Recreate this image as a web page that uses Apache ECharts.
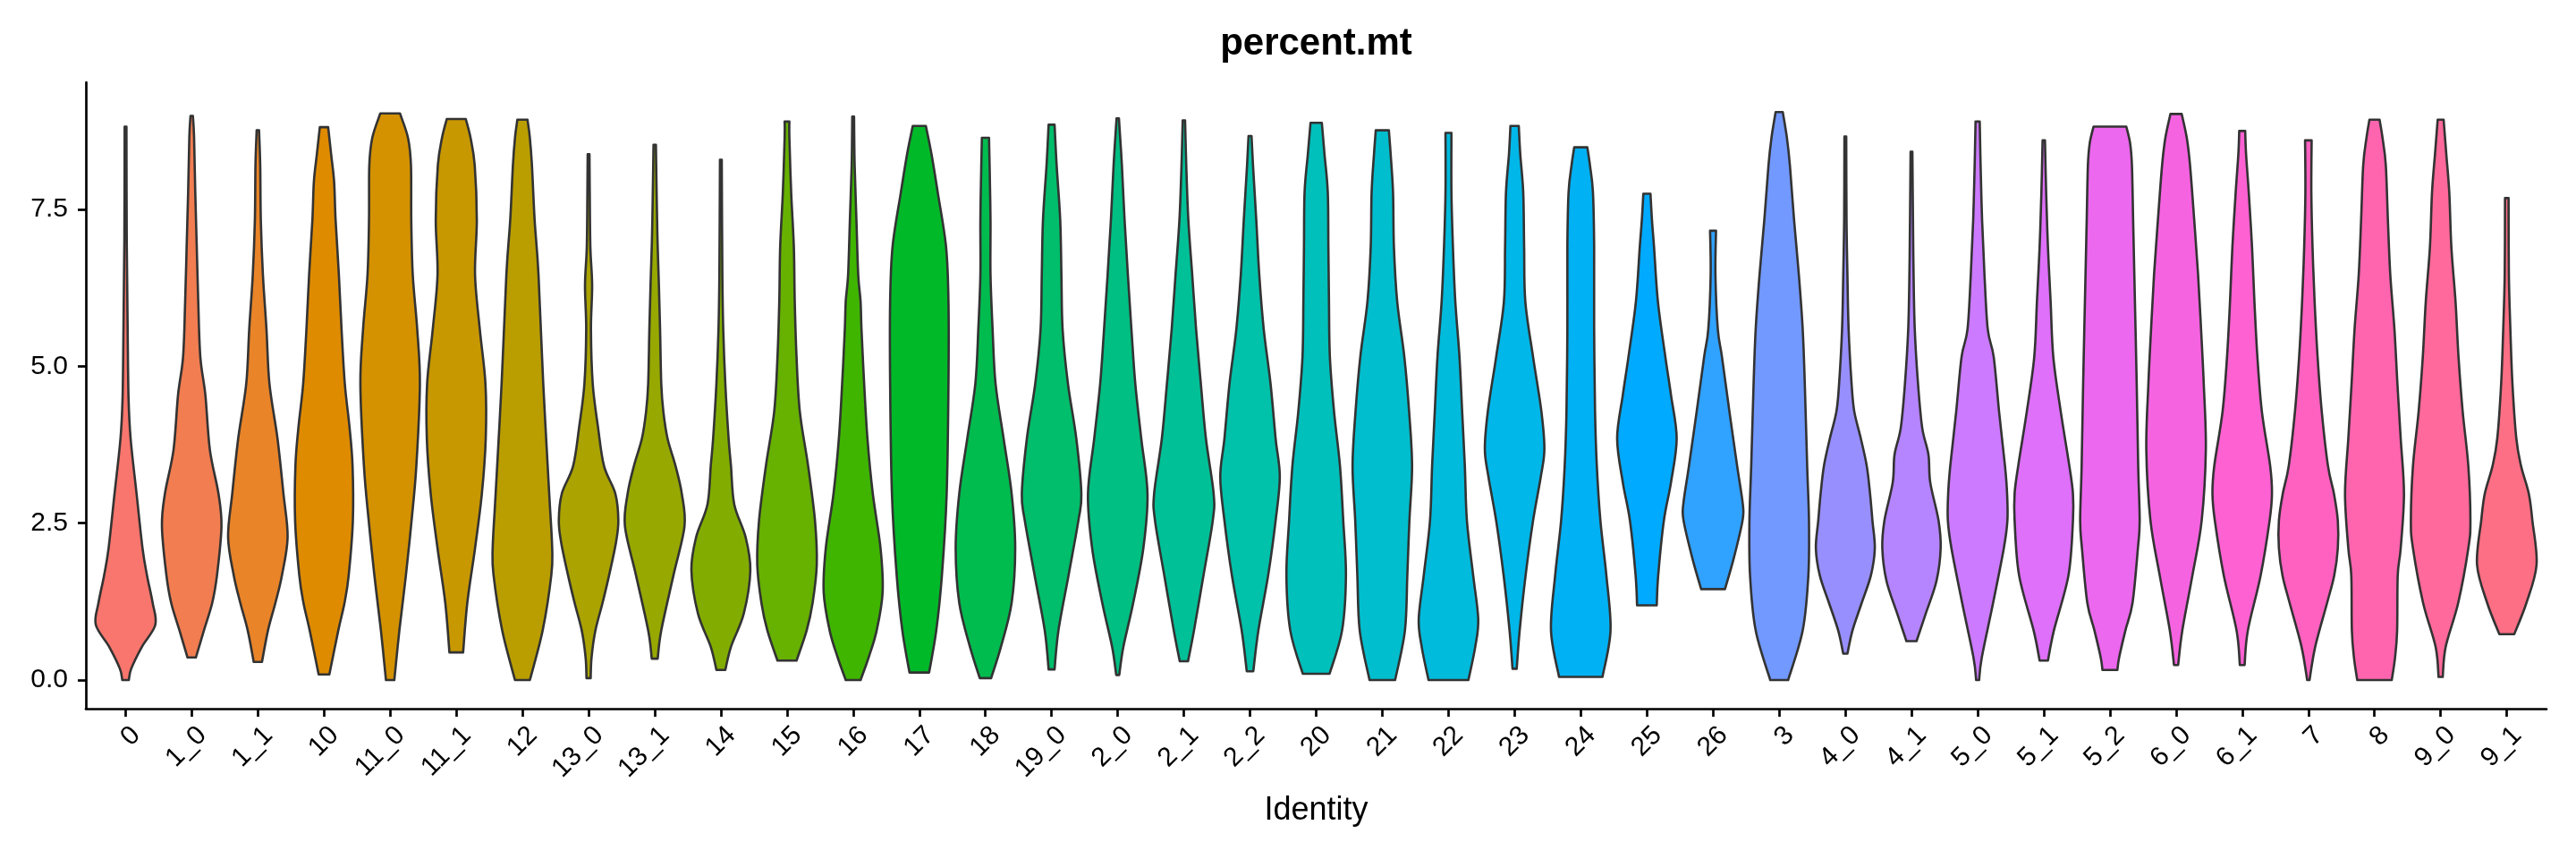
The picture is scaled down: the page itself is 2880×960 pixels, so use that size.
<!DOCTYPE html>
<html>
<head>
<meta charset="utf-8">
<title>percent.mt</title>
<script src="https://cdn.jsdelivr.net/npm/echarts@6/dist/echarts.min.js"></script>
<style>
  html, body { margin: 0; padding: 0; background: #fff; }
  #chart { width: 2880px; height: 960px; }
</style>
</head>
<body>
<div id="chart"></div>
<script>
// cluster identities, in plot order
const categories = [
  "0", "1_0", "1_1", "10", "11_0", "11_1", "12", "13_0", "13_1", "14",
  "15", "16", "17", "18", "19_0", "2_0", "2_1", "2_2", "20", "21",
  "22", "23", "24", "25", "26", "3", "4_0", "4_1", "5_0", "5_1",
  "5_2", "6_0", "6_1", "7", "8", "9_0", "9_1"
];

// y axis ticks
const yTicks = [0, 2.5, 5, 7.5];

// violin outlines: [percent.mt, relative width (1 = widest)]
// first knot is the trimmed minimum, last knot the trimmed maximum
const profiles = [
  [[0, 0.11], [0.18, 0.19], [0.53, 0.55], [0.88, 1.0], [1.23, 0.91], [1.67, 0.72], [2.1, 0.57], [2.97, 0.37], [3.85, 0.17], [4.5, 0.1], [5.6, 0.07], [7.0, 0.04], [8.82, 0.03]],
  [[0.36, 0.14], [0.79, 0.41], [1.23, 0.69], [1.67, 0.85], [2.45, 1.0], [2.97, 0.9], [3.67, 0.61], [4.54, 0.46], [5.15, 0.29], [6.03, 0.22], [6.9, 0.17], [7.77, 0.12], [8.65, 0.08], [8.99, 0.04]],
  [[0.29, 0.14], [0.79, 0.34], [1.23, 0.59], [1.67, 0.81], [2.28, 1.0], [2.97, 0.86], [3.85, 0.66], [4.72, 0.39], [5.59, 0.29], [6.46, 0.17], [7.33, 0.1], [8.2, 0.08], [8.76, 0.04]],
  [[0.09, 0.18], [0.79, 0.48], [1.23, 0.69], [1.67, 0.83], [2.54, 0.97], [3.41, 0.96], [4.02, 0.86], [4.72, 0.7], [5.59, 0.59], [6.46, 0.5], [7.33, 0.39], [7.94, 0.34], [8.38, 0.24], [8.81, 0.14]],
  [[0, 0.14], [0.79, 0.31], [1.67, 0.53], [2.54, 0.72], [3.41, 0.88], [4.72, 1.0], [5.59, 0.91], [6.46, 0.76], [7.33, 0.71], [8.2, 0.7], [8.64, 0.6], [9.03, 0.33]],
  [[0.44, 0.23], [1.23, 0.37], [2.1, 0.63], [2.97, 0.86], [3.85, 0.99], [4.72, 0.98], [5.59, 0.79], [6.46, 0.63], [7.33, 0.69], [8.2, 0.62], [8.64, 0.48], [8.94, 0.32]],
  [[0, 0.25], [0.79, 0.68], [1.67, 0.97], [2.1, 1.0], [2.97, 0.9], [4.72, 0.7], [6.46, 0.54], [7.33, 0.41], [8.2, 0.32], [8.64, 0.25], [8.93, 0.17]],
  [[0.03, 0.07], [0.36, 0.1], [0.79, 0.23], [1.23, 0.47], [1.67, 0.69], [2.19, 0.92], [2.54, 1.0], [2.97, 0.9], [3.41, 0.52], [4.02, 0.32], [4.72, 0.14], [5.59, 0.08], [6.29, 0.12], [6.9, 0.06], [7.77, 0.04], [8.38, 0.03]],
  [[0.34, 0.1], [0.79, 0.22], [1.67, 0.63], [2.45, 1.0], [2.97, 0.91], [3.41, 0.7], [3.85, 0.43], [4.28, 0.29], [4.72, 0.22], [5.59, 0.18], [6.3, 0.14], [6.9, 0.1], [7.33, 0.08], [8.2, 0.05], [8.53, 0.04]],
  [[0.16, 0.15], [0.53, 0.34], [1.06, 0.77], [1.75, 0.99], [2.28, 0.83], [2.8, 0.45], [3.41, 0.34], [3.85, 0.26], [4.72, 0.15], [5.59, 0.08], [6.46, 0.05], [8.29, 0.03]],
  [[0.31, 0.32], [0.79, 0.66], [1.23, 0.86], [1.84, 1.0], [2.54, 0.94], [3.41, 0.71], [4.28, 0.43], [5.15, 0.32], [6.03, 0.26], [6.9, 0.23], [7.77, 0.14], [8.64, 0.08], [8.9, 0.08]],
  [[0, 0.25], [0.36, 0.52], [0.79, 0.79], [1.4, 0.99], [2.1, 0.92], [2.97, 0.66], [3.85, 0.48], [4.72, 0.37], [5.59, 0.28], [6.03, 0.25], [6.46, 0.17], [7.33, 0.11], [8.2, 0.05], [8.98, 0.03]],
  [[0.12, 0.33], [0.79, 0.57], [1.67, 0.76], [2.97, 0.92], [4.72, 0.98], [6.03, 0.98], [6.9, 0.9], [7.77, 0.62], [8.38, 0.41], [8.83, 0.22]],
  [[0.03, 0.19], [0.53, 0.52], [1.23, 0.88], [2.1, 1.0], [2.97, 0.88], [3.85, 0.61], [4.72, 0.34], [5.59, 0.24], [6.46, 0.17], [7.33, 0.17], [8.2, 0.14], [8.64, 0.12]],
  [[0.17, 0.1], [0.79, 0.23], [1.67, 0.57], [2.54, 0.9], [2.97, 1.0], [3.85, 0.83], [4.72, 0.55], [5.59, 0.37], [6.46, 0.33], [7.33, 0.29], [8.2, 0.17], [8.85, 0.1]],
  [[0.08, 0.05], [0.53, 0.19], [1.23, 0.52], [2.1, 0.86], [2.97, 1.0], [3.85, 0.79], [4.72, 0.59], [5.59, 0.46], [6.46, 0.34], [7.33, 0.23], [8.2, 0.14], [8.95, 0.04]],
  [[0.3, 0.14], [0.79, 0.34], [1.67, 0.66], [2.54, 0.97], [2.97, 1.0], [3.85, 0.74], [4.72, 0.57], [5.59, 0.41], [6.46, 0.28], [7.33, 0.15], [8.2, 0.08], [8.92, 0.04]],
  [[0.14, 0.11], [0.79, 0.28], [1.67, 0.61], [2.54, 0.86], [3.24, 1.0], [3.85, 0.86], [4.72, 0.69], [5.59, 0.46], [6.46, 0.31], [7.33, 0.21], [8.2, 0.1], [8.67, 0.05]],
  [[0.1, 0.45], [0.79, 0.87], [1.67, 1.0], [2.54, 0.91], [3.41, 0.8], [4.28, 0.6], [5.15, 0.46], [6.03, 0.43], [6.9, 0.41], [7.77, 0.39], [8.38, 0.28], [8.88, 0.19]],
  [[0, 0.43], [0.79, 0.76], [1.67, 0.84], [2.54, 0.91], [3.41, 1.0], [4.28, 0.9], [5.15, 0.74], [6.03, 0.5], [6.9, 0.39], [7.77, 0.36], [8.38, 0.28], [8.76, 0.22]],
  [[0, 0.67], [0.53, 0.9], [0.97, 1.0], [1.67, 0.83], [2.54, 0.62], [3.41, 0.55], [4.28, 0.46], [5.15, 0.37], [6.03, 0.23], [6.9, 0.15], [7.77, 0.1], [8.72, 0.1]],
  [[0.18, 0.07], [0.79, 0.17], [1.67, 0.37], [2.54, 0.62], [3.24, 0.88], [3.68, 1.0], [4.28, 0.9], [5.15, 0.62], [6.03, 0.36], [6.9, 0.32], [7.77, 0.29], [8.38, 0.19], [8.83, 0.14]],
  [[0.05, 0.73], [0.79, 1.0], [1.67, 0.86], [2.54, 0.66], [3.41, 0.54], [4.28, 0.48], [5.59, 0.45], [6.9, 0.45], [7.77, 0.41], [8.2, 0.31], [8.49, 0.22]],
  [[1.19, 0.33], [1.67, 0.38], [2.54, 0.57], [3.15, 0.81], [3.85, 1.0], [4.54, 0.81], [5.15, 0.62], [6.03, 0.37], [6.9, 0.24], [7.33, 0.17], [7.75, 0.12]],
  [[1.45, 0.4], [1.93, 0.69], [2.54, 0.99], [2.8, 1.0], [3.41, 0.81], [4.28, 0.55], [5.15, 0.3], [5.59, 0.16], [6.46, 0.08], [7.16, 0.1]],
  [[0, 0.3], [0.79, 0.79], [1.67, 0.98], [2.54, 1.0], [3.41, 0.94], [4.72, 0.86], [5.59, 0.79], [6.46, 0.66], [7.33, 0.5], [8.2, 0.36], [8.64, 0.26], [9.05, 0.12]],
  [[0.42, 0.07], [0.79, 0.24], [1.23, 0.55], [1.67, 0.86], [2.1, 0.99], [2.54, 0.91], [2.97, 0.83], [3.41, 0.72], [3.85, 0.52], [4.28, 0.3], [4.72, 0.21], [5.59, 0.11], [6.46, 0.07], [7.33, 0.04], [8.66, 0.03]],
  [[0.62, 0.17], [1.06, 0.48], [1.58, 0.84], [2.1, 0.98], [2.54, 0.91], [3.15, 0.63], [3.59, 0.57], [4.02, 0.36], [4.72, 0.22], [5.59, 0.11], [6.46, 0.07], [7.33, 0.05], [8.42, 0.03]],
  [[0, 0.05], [0.36, 0.14], [1.23, 0.52], [2.1, 0.88], [2.54, 1.0], [2.97, 0.99], [3.41, 0.92], [4.28, 0.72], [5.15, 0.54], [5.59, 0.34], [6.46, 0.23], [7.33, 0.15], [8.2, 0.1], [8.9, 0.07]],
  [[0.31, 0.14], [0.79, 0.34], [1.67, 0.83], [2.54, 0.98], [2.97, 0.98], [3.41, 0.86], [4.28, 0.57], [5.15, 0.32], [6.03, 0.23], [6.9, 0.14], [7.77, 0.08], [8.6, 0.04]],
  [[0.16, 0.25], [0.36, 0.31], [0.79, 0.52], [1.23, 0.76], [2.1, 0.94], [2.54, 1.0], [3.41, 0.95], [4.72, 0.9], [6.46, 0.82], [7.33, 0.78], [8.2, 0.74], [8.55, 0.68], [8.82, 0.55]],
  [[0.24, 0.07], [0.79, 0.21], [1.67, 0.55], [2.54, 0.86], [3.67, 1.0], [4.72, 0.93], [5.59, 0.84], [6.46, 0.74], [7.33, 0.61], [8.2, 0.47], [8.64, 0.36], [9.02, 0.19]],
  [[0.24, 0.08], [0.79, 0.19], [1.67, 0.62], [2.54, 0.92], [2.97, 1.0], [3.41, 0.94], [4.28, 0.66], [5.15, 0.51], [6.03, 0.41], [6.9, 0.33], [7.77, 0.22], [8.38, 0.13], [8.75, 0.1]],
  [[0, 0.04], [0.53, 0.23], [1.23, 0.63], [1.67, 0.87], [2.1, 0.99], [2.54, 0.99], [2.97, 0.86], [3.41, 0.66], [4.28, 0.45], [5.15, 0.31], [6.03, 0.21], [6.9, 0.14], [7.77, 0.1], [8.6, 0.11]],
  [[0, 0.58], [0.36, 0.69], [0.79, 0.76], [1.67, 0.78], [2.1, 0.88], [2.97, 0.99], [3.85, 0.88], [4.72, 0.77], [5.59, 0.67], [6.46, 0.53], [7.33, 0.45], [8.2, 0.38], [8.64, 0.27], [8.93, 0.17]],
  [[0.05, 0.07], [0.53, 0.17], [1.23, 0.59], [2.1, 0.93], [2.54, 1.0], [3.41, 0.93], [4.28, 0.74], [5.15, 0.6], [6.03, 0.5], [6.9, 0.36], [7.77, 0.29], [8.38, 0.19], [8.93, 0.1]],
  [[0.73, 0.25], [1.23, 0.66], [1.84, 1.0], [2.54, 0.86], [2.97, 0.74], [3.41, 0.48], [3.85, 0.32], [4.72, 0.19], [5.59, 0.12], [6.46, 0.07], [7.68, 0.06]]
];

const FONT = "'Liberation Sans', Arial, Helvetica, sans-serif";
const HALF_WIDTH = 0.45;      // violins are 0.9 of a category wide at their widest
const LABEL_SHIFT = 0.16;     // rotated labels end a little right of their tick

// ggplot-style hue palette (hcl, c = 100, l = 65)
function hcl(h, c, l) {
  const WX = 95.047, WY = 100, WZ = 108.883;
  const den = WX + 15 * WY + 3 * WZ;
  const un = 4 * WX / den, vn = 9 * WY / den;
  const hr = h * Math.PI / 180;
  const Y = WY * (l > 7.999592 ? Math.pow((l + 16) / 116, 3) : l / 903.3);
  const u = c * Math.cos(hr) / (13 * l) + un;
  const v = c * Math.sin(hr) / (13 * l) + vn;
  const X = Y * 9 * u / (4 * v);
  const Z = Y * (12 - 3 * u - 20 * v) / (4 * v);
  const gam = (t) => (t > 0.00304 ? 1.055 * Math.pow(t, 1 / 2.4) - 0.055 : 12.92 * t);
  const to255 = (t) => Math.round(255 * Math.min(1, Math.max(0, gam(t / WY))));
  const r = to255(3.240479 * X - 1.537150 * Y - 0.498535 * Z);
  const g = to255(-0.969256 * X + 1.875992 * Y + 0.041556 * Z);
  const b = to255(0.055648 * X - 0.204043 * Y + 1.057311 * Z);
  return "rgb(" + r + "," + g + "," + b + ")";
}
const colors = categories.map((c, i) => hcl(15 + i * 360 / categories.length, 100, 65));

// smooth curve through screen points (Catmull-Rom as cubic beziers)
function curveThrough(pts) {
  let d = "";
  for (let i = 0; i < pts.length - 1; i++) {
    const p0 = pts[i - 1] || pts[i];
    const p1 = pts[i];
    const p2 = pts[i + 1];
    const p3 = pts[i + 2] || pts[i + 1];
    const c1 = [p1[0] + (p2[0] - p0[0]) / 6, p1[1] + (p2[1] - p0[1]) / 6];
    const c2 = [p2[0] - (p3[0] - p1[0]) / 6, p2[1] - (p3[1] - p1[1]) / 6];
    d += " C" + c1[0] + " " + c1[1] + " " + c2[0] + " " + c2[1] + " " + p2[0] + " " + p2[1];
  }
  return d;
}

function renderViolin(params, api) {
  const idx = params.dataIndex;
  const x = api.value(0);
  const prof = profiles[idx];
  const right = prof.map((p) => api.coord([x + p[1] * HALF_WIDTH, p[0]]));
  const left = prof.map((p) => api.coord([x - p[1] * HALF_WIDTH, p[0]])).reverse();
  const d = "M" + right[0][0] + " " + right[0][1] + curveThrough(right) +
    " L" + left[0][0] + " " + left[0][1] + curveThrough(left) + " Z";
  return {
    type: "path",
    shape: {pathData: d},
    style: {fill: colors[idx], stroke: "#333333", lineWidth: 2.6, lineJoin: "round"}
  };
}

const chart = echarts.init(document.getElementById("chart"));

const option = {
  animation: false,
  backgroundColor: "#ffffff",
  textStyle: {fontFamily: FONT},
  grid: {left: 96, right: 33, top: 92, bottom: 168, containLabel: false, outerBoundsMode: "none"},
  graphic: [
    {
      type: "text",
      x: 1471.5,
      y: 49,
      style: {text: "percent.mt", font: "bold 42px " + FONT, fill: "#000", align: "center", verticalAlign: "middle"}
    }
  ],
  xAxis: {
    type: "value",
    min: -0.6,
    max: categories.length - 0.4,
    name: "Identity",
    nameLocation: "middle",
    nameGap: 96,
    nameTextStyle: {fontSize: 36, color: "#000", fontFamily: FONT},
    axisLine: {show: true, onZero: false, lineStyle: {color: "#000", width: 2.7}},
    axisTick: {show: true, length: 9, customValues: categories.map((c, i) => i), lineStyle: {color: "#000", width: 2.7}},
    axisLabel: {
      customValues: categories.map((c, i) => i + LABEL_SHIFT),
      formatter: (v) => categories[Math.round(v)],
      rotate: 45,
      margin: 25,
      fontSize: 30,
      color: "#000",
      fontFamily: FONT
    },
    splitLine: {show: false}
  },
  yAxis: {
    type: "value",
    min: -0.456,
    max: 9.525,
    axisLine: {show: true, onZero: false, lineStyle: {color: "#000", width: 2.7}},
    axisTick: {show: true, length: 9, customValues: yTicks, lineStyle: {color: "#000", width: 2.7}},
    axisLabel: {
      customValues: yTicks,
      formatter: (v) => v.toFixed(1),
      margin: 20,
      fontSize: 30,
      color: "#000",
      fontFamily: FONT
    },
    splitLine: {show: false}
  },
  series: [
    {
      type: "custom",
      coordinateSystem: "cartesian2d",
      data: categories.map((c, i) => [i]),
      encode: {x: 0},
      renderItem: renderViolin
    }
  ]
};

chart.setOption(option);
</script>
</body>
</html>
